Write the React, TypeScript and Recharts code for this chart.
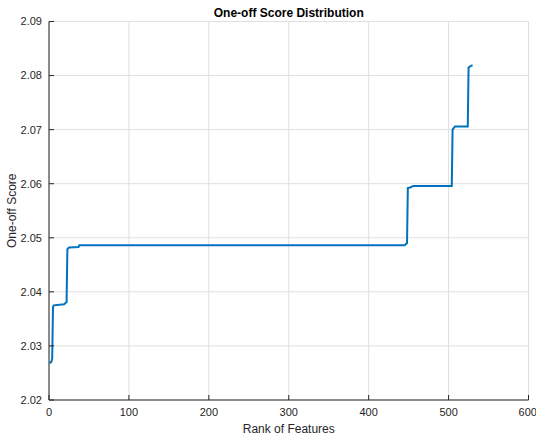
import {
  LineChart,
  Line,
  XAxis,
  YAxis,
  CartesianGrid,
} from "recharts";

const ranks = [
  1, 3, 4, 5, 6, 19, 21, 22, 23, 25, 37, 38, 445, 447, 448, 449, 452, 456, 504,
  505, 508, 524, 525, 528, 530,
];
const scores = [
  2.0268, 2.0271, 2.0276, 2.0372, 2.0375, 2.0377, 2.038, 2.0381, 2.0479,
  2.0482, 2.0483, 2.0486, 2.0486, 2.0489, 2.049, 2.0592, 2.0593, 2.0596,
  2.0596, 2.07, 2.0706, 2.0706, 2.0815, 2.0818, 2.0819,
];
const xTicks = [0, 100, 200, 300, 400, 500, 600];
const yTicks = [2.02, 2.03, 2.04, 2.05, 2.06, 2.07, 2.08, 2.09];

const data = ranks.map((r, i) => ({ rank: r, score: scores[i] }));

const FONT = "'Liberation Sans', Arial, Helvetica, sans-serif";
const AXIS = "#262626";
const noTick = () => <g />;

const App = () => {
  return (
    <div
      style={{
        position: "absolute",
        left: 0,
        top: 0,
        width: 536,
        height: 441,
        background: "#fff",
        fontFamily: FONT,
      }}
    >
      <div
        style={{
          position: "absolute",
          left: 49,
          width: 479.5,
          top: 6.8,
          lineHeight: "12px",
          fontSize: 12,
          fontWeight: "bold",
          textAlign: "center",
          color: "#000",
        }}
      >
        One-off Score Distribution
      </div>
      <LineChart
        width={536}
        height={441}
        data={data}
        margin={{ top: 21.5, right: 7.5, left: 0, bottom: 0 }}
        style={{ fontFamily: FONT }}
      >
        <CartesianGrid stroke="#dfdfdf" strokeWidth={1} />
        <XAxis
          type="number"
          dataKey="rank"
          domain={[0, 600]}
          ticks={xTicks}
          height={41}
          tickSize={-5}
          tickMargin={13.5}
          axisLine={{ stroke: AXIS }}
          tickLine={{ stroke: AXIS }}
          tick={{ fill: AXIS, fontSize: 11 }}
          label={{
            value: "Rank of Features",
            position: "insideBottom",
            offset: 8,
            fill: AXIS,
            fontSize: 12,
          }}
        />
        <XAxis
          xAxisId="top"
          orientation="top"
          type="number"
          domain={[0, 600]}
          ticks={xTicks}
          height={0}
          tickSize={-5}
          axisLine={{ stroke: AXIS }}
          tickLine={{ stroke: AXIS }}
          tick={noTick}
        />
        <YAxis
          type="number"
          domain={[2.02, 2.09]}
          ticks={yTicks}
          width={49}
          tickSize={-5}
          tickMargin={12}
          axisLine={{ stroke: AXIS }}
          tickLine={{ stroke: AXIS }}
          tick={{ fill: AXIS, fontSize: 11 }}
          tickFormatter={(v: number) => v.toFixed(2)}
          label={{
            value: "One-off Score",
            angle: -90,
            position: "insideLeft",
            offset: 12,
            fill: AXIS,
            fontSize: 12,
            style: { textAnchor: "middle" },
          }}
        />
        <YAxis
          yAxisId="right"
          orientation="right"
          type="number"
          domain={[2.02, 2.09]}
          ticks={yTicks}
          width={0}
          tickSize={-5}
          axisLine={{ stroke: AXIS }}
          tickLine={{ stroke: AXIS }}
          tick={noTick}
        />
        <Line
          type="linear"
          dataKey="score"
          stroke="#0072BD"
          strokeWidth={2}
          dot={false}
          isAnimationActive={false}
        />
      </LineChart>
    </div>
  );
};

export default App;
